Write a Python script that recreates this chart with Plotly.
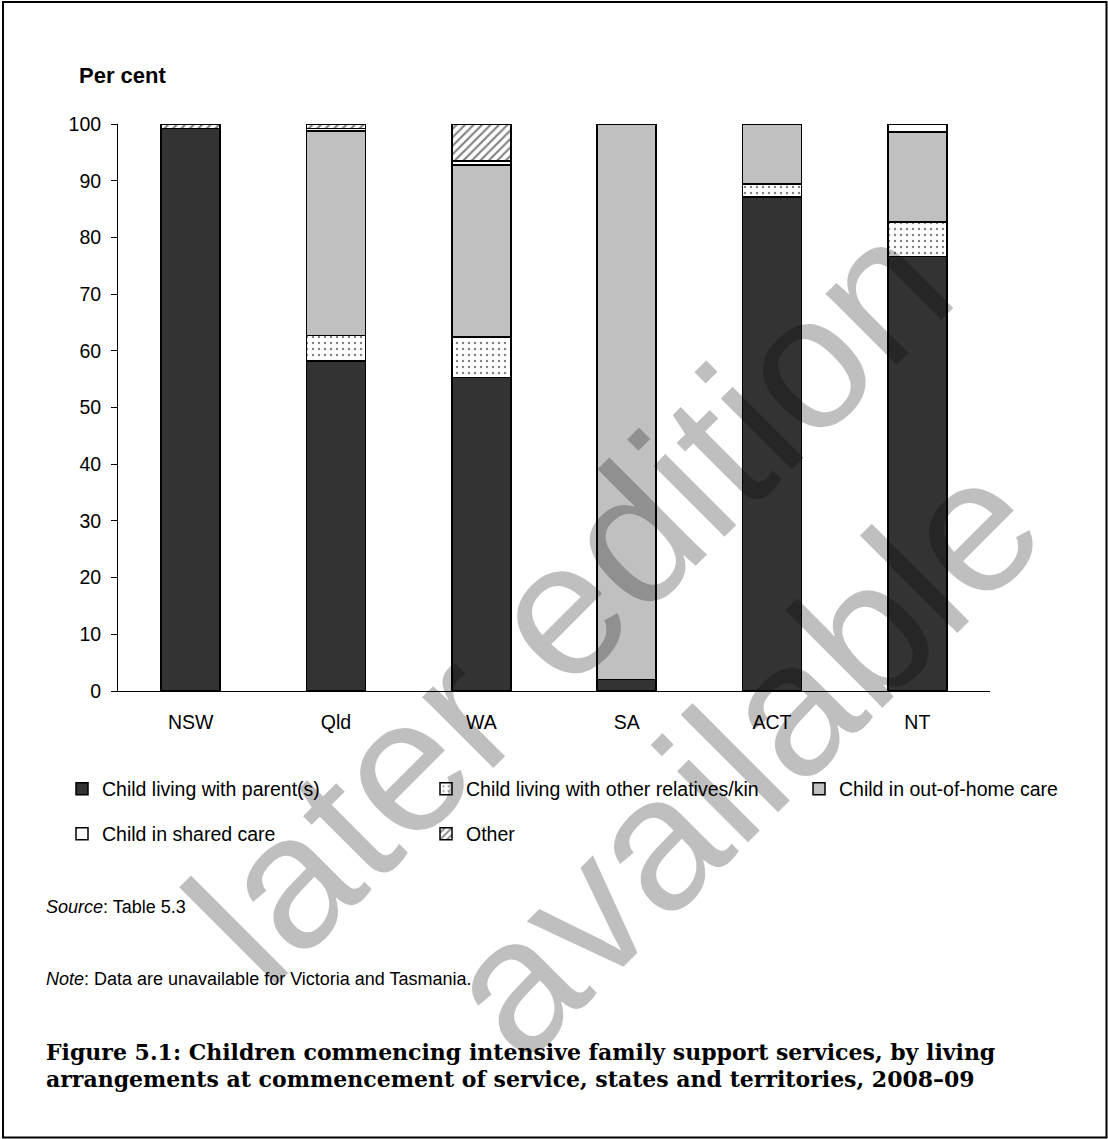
import plotly.graph_objects as go

# ---------------- data ----------------
states = ["NSW", "Qld", "WA", "SA", "ACT", "NT"]
parent = [99.2, 58.2, 55.3, 2.0, 87.1, 76.6]
relatives = [None, 4.5, 7.1, None, 2.3, 6.1]
out_of_home = [None, 36.1, 30.4, 98.0, 10.6, 15.9]
shared_care = [None, 0.4, 0.7, None, None, 1.4]
other = [0.8, 0.8, 6.5, None, None, None]

series_names = [
    "Child living with parent(s)",
    "Child living with other relatives/kin",
    "Child in out-of-home care",
    "Child in shared care",
    "Other",
]
y_ticks = list(range(0, 101, 10))

# ---------------- geometry helpers (pixel -> paper) ----------------
W, H = 1108, 1139
L, R, T, B = 118, 990, 124, 691


def X(px):
    return (px - L) / (R - L)


def Y(py):
    return (B - py) / (B - T)


FONT = "Liberation Sans, Arial, sans-serif"
SERIF = "DejaVu Serif, Liberation Serif, serif"

fig = go.Figure()

line = dict(color="black", width=1.5)
fig.add_trace(go.Bar(x=states, y=parent, name=series_names[0], showlegend=True,
                     marker=dict(color="#333333", line=line), legend="legend"))
fig.add_trace(go.Bar(x=states, y=relatives, name=series_names[1], showlegend=True,
                     marker=dict(color="white", line=line,
                                 pattern=dict(shape=".", fgcolor="black", bgcolor="white",
                                              size=6, solidity=0.12)),
                     legend="legend2"))
fig.add_trace(go.Bar(x=states, y=out_of_home, name=series_names[2], showlegend=True,
                     marker=dict(color="#c0c0c0", line=line), legend="legend3"))
fig.add_trace(go.Bar(x=states, y=shared_care, name=series_names[3], showlegend=True,
                     marker=dict(color="white", line=line), legend="legend4"))
fig.add_trace(go.Bar(x=states, y=other, name=series_names[4], showlegend=True,
                     marker=dict(color="white", line=line,
                                 pattern=dict(shape="/", fgcolor="black", bgcolor="white",
                                              size=6, solidity=0.35)),
                     legend="legend5"))

leg_common = dict(orientation="h", xanchor="left", yanchor="middle",
                  font=dict(family=FONT, size=19.5, color="black"),
                  bgcolor="rgba(0,0,0,0)", borderwidth=0, visible=True)
row1, row2 = 789, 834
fig.update_layout(
    showlegend=True,
    legend=dict(x=X(62), y=Y(row1), **leg_common),
    legend2=dict(x=X(426), y=Y(row1), **leg_common),
    legend3=dict(x=X(799), y=Y(row1), **leg_common),
    legend4=dict(x=X(62), y=Y(row2), **leg_common),
    legend5=dict(x=X(426), y=Y(row2), **leg_common),
)

fig.update_layout(
    width=W, height=H,
    margin=dict(l=L, r=W - R, t=T, b=H - B, pad=0),
    paper_bgcolor="white", plot_bgcolor="white",
    barmode="stack", bargap=0.594,
    font=dict(family=FONT, size=19.5, color="black"),
    xaxis=dict(showline=True, linecolor="black", linewidth=1, ticks="",
               showgrid=False, zeroline=False, ticklabelstandoff=14,
               tickfont=dict(family=FONT, size=19.5, color="black")),
    yaxis=dict(range=[0, 100], tickvals=y_ticks, showline=True, linecolor="black",
               linewidth=1, ticks="outside", ticklen=6, tickcolor="black", tickwidth=1,
               showgrid=False, zeroline=False, ticklabelstandoff=6,
               tickfont=dict(family=FONT, size=19.5, color="black")),
)

annotations = [
    dict(text="<b>Per cent</b>", x=X(77), y=Y(75), xanchor="left", yanchor="middle",
         font=dict(family=FONT, size=22, color="black")),
    dict(text="<i>Source</i>: Table 5.3", x=X(44), y=Y(907), xanchor="left", yanchor="middle",
         font=dict(family=FONT, size=18, color="black")),
    dict(text="<i>Note</i>: Data are unavailable for Victoria and Tasmania.", x=X(44), y=Y(979),
         xanchor="left", yanchor="middle", font=dict(family=FONT, size=18, color="black")),
    dict(text="<b>Figure 5.1: Children commencing intensive family support services, by living</b>",
         x=X(44), y=Y(1052), xanchor="left", yanchor="middle",
         font=dict(family=SERIF, size=22, color="black")),
    dict(text="<b>arrangements at commencement of service, states and territories, 2008–09</b>",
         x=X(44), y=Y(1079), xanchor="left", yanchor="middle",
         font=dict(family=SERIF, size=22, color="black")),
    # watermark
    dict(text="later edition", x=X(568), y=Y(600), xanchor="center", yanchor="middle",
         textangle=-45, font=dict(family=FONT, size=190, color="rgba(0,0,0,0.25)")),
    dict(text="available", x=X(741), y=Y(756), xanchor="center", yanchor="middle",
         textangle=-45, font=dict(family=FONT, size=190, color="rgba(0,0,0,0.25)")),
]
for a in annotations:
    a.update(xref="paper", yref="paper", showarrow=False)
fig.update_layout(annotations=annotations)

fig.add_shape(type="rect", xref="paper", yref="paper",
              x0=X(3), x1=X(1106.5), y0=Y(2), y1=Y(1137.5),
              line=dict(color="black", width=2), fillcolor="rgba(0,0,0,0)", layer="above")

fig.write_html("out.html", config={"displayModeBar": False},
               post_script="document.body.style.margin='0';document.body.style.overflow='hidden';")
